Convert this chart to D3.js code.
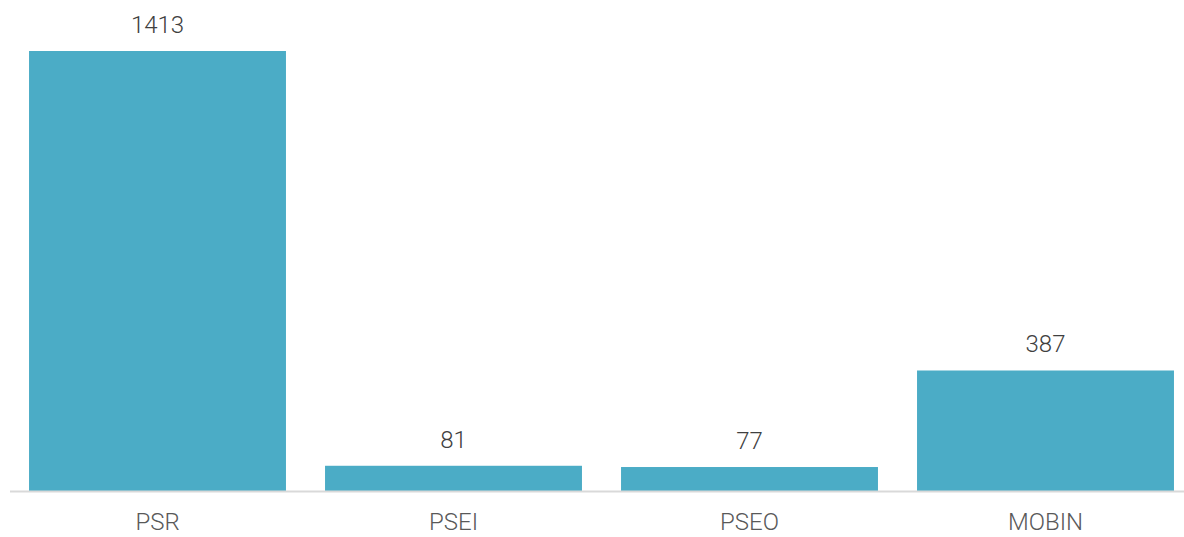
<!DOCTYPE html>
<html>
<head>
<meta charset="utf-8">
<script src="https://cdn.jsdelivr.net/npm/d3@7"></script>
<style>
  body { margin: 0; background: #fff; }
  text { font-family: Roboto, "DejaVu Sans", sans-serif; }
</style>
</head>
<body>
<div id="chart"></div>
<script>
var categories = ['PSR', 'PSEI', 'PSEO', 'MOBIN'];
var values = [1413, 81, 77, 387];

var width = 1184, height = 537;
var baseY = 491;

var svg = d3.select('#chart').append('svg')
    .attr('width', width)
    .attr('height', height);

var x = d3.scaleBand()
    .domain(categories)
    .range([9.5, 1193.5])
    .paddingInner(0.132)
    .paddingOuter(0.066);

var y = d3.scaleLinear()
    .domain([0, 1413])
    .range([baseY, 51]);

var data = categories.map(function(c, i) { return { name: c, value: values[i] }; });

svg.selectAll('rect.bar')
  .data(data)
  .enter()
  .append('rect')
    .attr('class', 'bar')
    .attr('x', function(d) { return x(d.name); })
    .attr('y', function(d) { return y(d.value); })
    .attr('width', x.bandwidth())
    .attr('height', function(d) { return baseY - y(d.value); })
    .attr('fill', '#4BACC6');

// baseline
svg.append('line')
    .attr('x1', 10).attr('x2', width)
    .attr('y1', baseY + 0.5).attr('y2', baseY + 0.5)
    .attr('stroke', '#d9d9d9')
    .attr('stroke-width', 2);

// value labels
svg.selectAll('text.val')
  .data(data)
  .enter()
  .append('text')
    .attr('class', 'val')
    .attr('x', function(d) { return x(d.name) + x.bandwidth() / 2; })
    .attr('y', function(d) { return y(d.value) - 18; })
    .attr('text-anchor', 'middle')
    .attr('font-size', 24)
    .attr('font-weight', 300)
    .attr('fill', '#404040')
    .text(function(d) { return d.value; });

// category axis
var xAxis = d3.axisBottom(x).tickSize(0).tickPadding(0);
var g = svg.append('g')
    .attr('transform', 'translate(0,' + baseY + ')')
    .call(xAxis);
g.select('.domain').remove();
g.selectAll('text')
    .attr('dy', null)
    .attr('y', 39)
    .attr('font-size', 24)
    .attr('font-weight', 300)
    .attr('font-family', 'Roboto, "DejaVu Sans", sans-serif')
    .attr('fill', '#595959');
</script>
</body>
</html>
